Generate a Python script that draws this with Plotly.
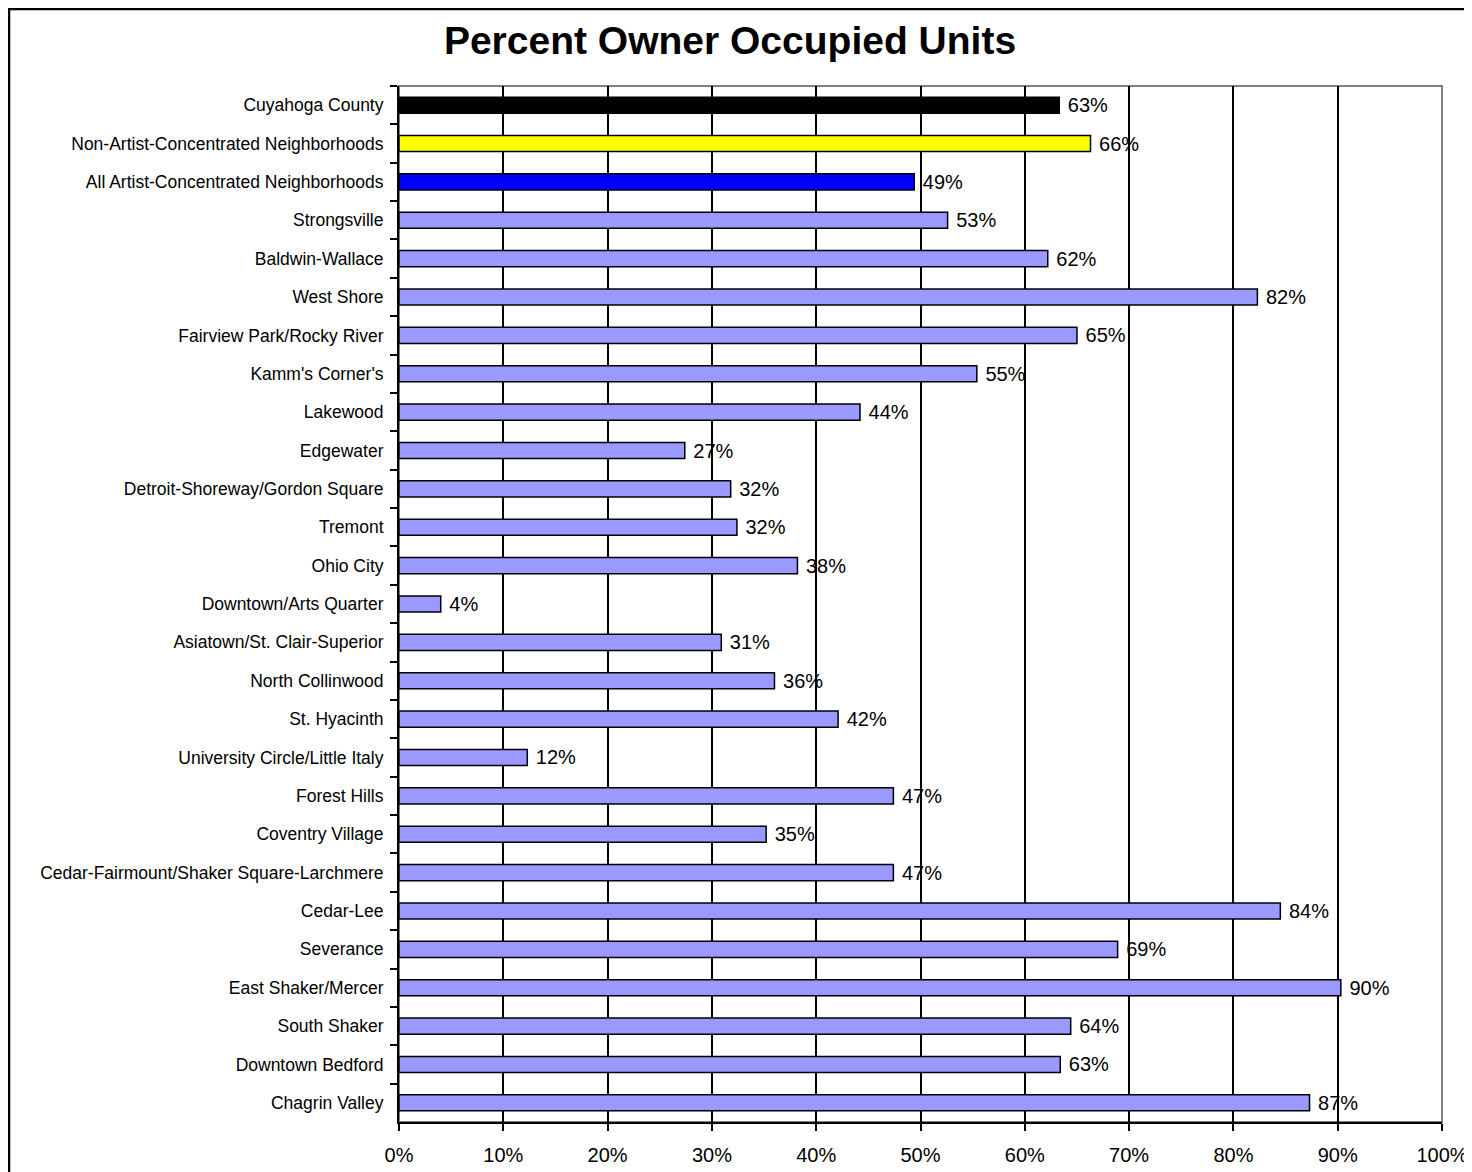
import plotly.graph_objects as go

categories = [
    "Cuyahoga County", "Non-Artist-Concentrated Neighborhoods", "All Artist-Concentrated Neighborhoods",
    "Strongsville", "Baldwin-Wallace", "West Shore", "Fairview Park/Rocky River", "Kamm's Corner's",
    "Lakewood", "Edgewater", "Detroit-Shoreway/Gordon Square", "Tremont", "Ohio City",
    "Downtown/Arts Quarter", "Asiatown/St. Clair-Superior", "North Collinwood", "St. Hyacinth",
    "University Circle/Little Italy", "Forest Hills", "Coventry Village",
    "Cedar-Fairmount/Shaker Square-Larchmere", "Cedar-Lee", "Severance", "East Shaker/Mercer",
    "South Shaker", "Downtown Bedford", "Chagrin Valley",
]
values = [0.633, 0.663, 0.494, 0.526, 0.622, 0.823, 0.650, 0.554, 0.442, 0.274, 0.318, 0.324,
          0.382, 0.040, 0.309, 0.360, 0.421, 0.123, 0.474, 0.352, 0.474, 0.845, 0.689, 0.903,
          0.644, 0.634, 0.873]
bar_colors = ["#000000", "#FFFF00", "#0000FF"] + ["#9999FF"] * (len(categories) - 3)
x_ticks = [i / 10 for i in range(11)]
x_tick_labels = [f"{i*10}%" for i in range(11)]

FONT = "Liberation Sans, Arial"

fig = go.Figure()
fig.add_trace(go.Bar(
    y=categories, x=values, orientation="h",
    marker=dict(color=bar_colors, line=dict(color="#000000", width=1.5)),
    width=0.42,
    text=[f" {round(v*100)}%" for v in values],
    textposition="outside",
    constraintext="none",
    textfont=dict(family=FONT, size=20, color="#000000"),
    cliponaxis=False,
))

W, H = 1464, 1164
L, R, T, B = 391, 30, 78, 50
pw, ph = W - L - R, H - T - B


def px_x(x):
    return (x - L) / pw


def px_y(y):
    return (H - B - y) / ph


fig.update_layout(
    width=W, height=H,
    margin=dict(l=L, r=R, t=T, b=B, autoexpand=False),
    paper_bgcolor="white", plot_bgcolor="white",
    showlegend=False,
    font=dict(family=FONT, color="#000000"),
    title=dict(text="<b>Percent Owner Occupied Units</b>", x=722 / W, xanchor="center",
               y=1 - 32 / H, yanchor="middle",
               font=dict(family=FONT, size=39, color="#000000")),
    xaxis=dict(range=[0, 1], tickvals=x_ticks, ticktext=x_tick_labels,
               showgrid=True, gridcolor="#000000", gridwidth=1.5,
               showline=True, linecolor="#000000", linewidth=2,
               ticks="outside", ticklen=7, tickwidth=2, tickcolor="#000000",
               tickfont=dict(size=20), ticklabelstandoff=7, zeroline=False, fixedrange=True),
    yaxis=dict(autorange="reversed", showgrid=False,
               showline=True, linecolor="#000000", linewidth=2,
               ticks="outside", ticklen=7, tickwidth=2, tickcolor="#000000",
               tickson="boundaries",
               tickfont=dict(size=17.5), ticklabelstandoff=10, zeroline=False),
    bargap=0.58,
)

# grey plot-area border (top/right)
fig.add_shape(type="rect", xref="paper", yref="paper", x0=0, x1=1, y0=0, y1=1,
              line=dict(color="#808080", width=2), layer="below")
# outer chart frame
fig.add_shape(type="rect", xref="paper", yref="paper",
              x0=px_x(1), x1=px_x(W + 20),
              y0=px_y(H + 20), y1=px_y(1),
              line=dict(color="#000000", width=2.5))

fig.write_html("out.html")
